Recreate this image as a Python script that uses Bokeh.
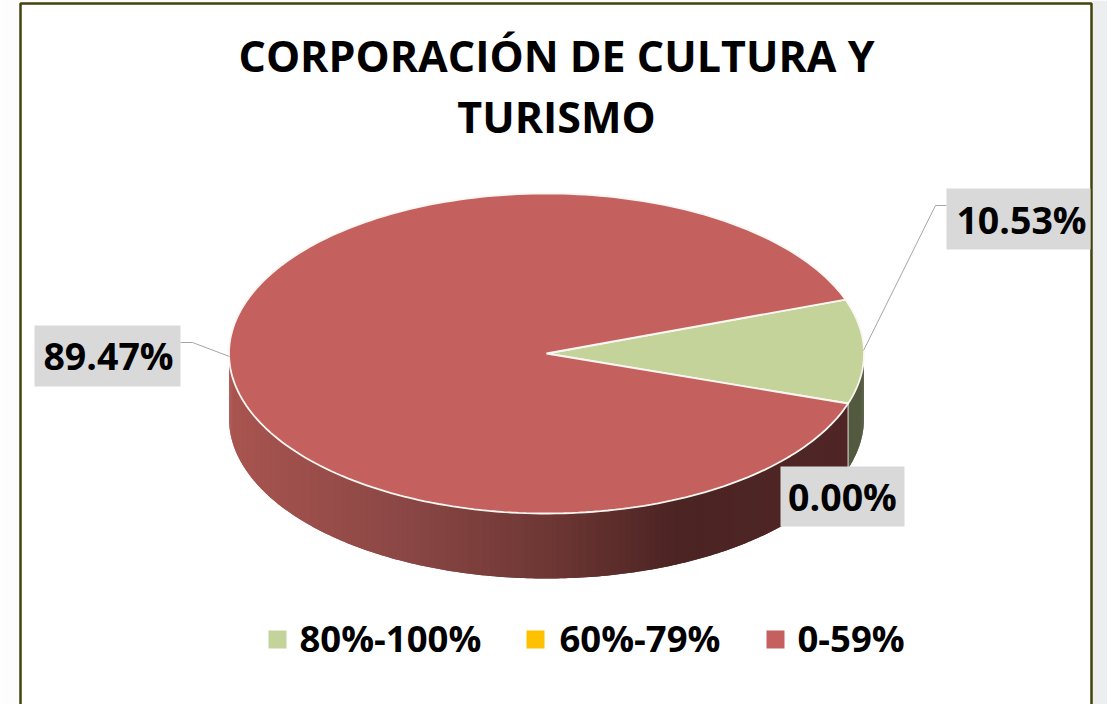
import numpy as np
from bokeh.plotting import figure
from bokeh.models import Range1d
from bokeh.core.properties import value
from bokeh.embed import file_html
from bokeh.resources import INLINE

# ---- data ----
categories = ["80%-100%", "60%-79%", "0-59%"]
shares = [10.53, 0.00, 89.47]
share_labels = ["10.53%", "0.00%", "89.47%"]
title_lines = ["CORPORACIÓN DE CULTURA Y", "TURISMO"]

# ---- style ----
top_colors = ["#c3d39a", "#ffc000", "#c4605d"]
FONT = value("Open Sans")
W, H = 1107, 704
CX, CY, RX, RY, DEPTH = 546, 353, 317.5, 160, 65
START = 19.7  # degrees, first slice starts here and runs clockwise


def pt(deg, dy=0):
    a = np.radians(deg)
    return CX + RX * np.cos(a), CY - RY * np.sin(a) + dy


p = figure(width=W, height=H, output_backend="svg", toolbar_location=None,
           x_range=Range1d(0, W), y_range=Range1d(H, 0),
           min_border=0, outline_line_color=None, background_fill_color="#fdfdfd")
p.axis.visible = False
p.grid.visible = False

# frame
p.quad(left=[1091], right=[W], top=[0], bottom=[H], fill_color="#eceef0", line_color=None)
p.quad(left=[20], right=[1091], top=[3], bottom=[H + 4], fill_color="#ffffff",
       line_color="#43430c", line_width=2.5)

# slice angle spans, from the values
total = sum(shares)
spans = []
a = START
for s in shares:
    b = a - s / total * 360
    spans.append((a, b))
    a = b


def side_color(x):
    stops_x = [229, 400, 546, 680, 850]
    r = np.interp(x, stops_x, [0xAA, 0x8C, 0x6F, 0x4C, 0x50])
    g = np.interp(x, stops_x, [0x55, 0x48, 0x38, 0x24, 0x27])
    bl = np.interp(x, stops_x, [0x50, 0x46, 0x35, 0x23, 0x26])
    return "#%02x%02x%02x" % (int(r), int(g), int(bl))


# side walls: only the front half of the rim shows
sx, sy, sc = [], [], []
for i, (a0, a1) in enumerate(spans):
    lo, hi = max(a1, -180), min(a0, 0)
    if hi <= lo:
        continue
    n = max(2, int((hi - lo) / 0.75))
    edges = np.linspace(hi, lo, n + 1)
    for k in range(n):
        # each strip reaches under the next one, so no seams show
        x0, y0 = pt(edges[k])
        x1, y1 = pt(edges[min(k + 2, n)])
        xm, ym = pt(edges[k + 1])
        sx.append([x0, xm, x1, x1, xm, x0])
        sy.append([y0, ym, y1, y1 + DEPTH, ym + DEPTH, y0 + DEPTH])
        sc.append("#535a3f" if i == 0 else side_color(xm))
p.patches(sx[::-1], sy[::-1], fill_color=sc[::-1], line_color=None)

# wall edge between the green and red sides
ex, ey = pt(spans[0][1])
p.segment(x0=[ex], y0=[ey], x1=[ex], y1=[ey + DEPTH], line_color="#c8c8c0", line_width=1.2)

# top faces
for (a0, a1), col in zip(spans, top_colors):
    if a0 == a1:
        continue
    ang = np.linspace(a0, a1, 240)
    xs, ys = pt(ang)
    p.patch(np.r_[CX, xs], np.r_[CY, ys], fill_color=col, line_color="#fbf6f2", line_width=1.8)

# leader lines
p.multi_line([[863, 935, 946], [229, 192, 180]], [[350, 205, 205], [356, 342, 342]],
             line_color="#a6a6a6", line_width=1)

# data labels
p.quad(left=[946, 780, 34], right=[1090, 904, 180], top=[188, 466, 325], bottom=[249, 526, 386],
       fill_color="#d9d9d9", line_color=None)
p.text(x=[1021, 842, 108], y=[219, 496, 355], text=share_labels, text_font=FONT,
       text_font_style="bold", text_font_size="37.5px", text_color="#000000",
       text_align="center", text_baseline="middle")

# title
p.text(x=[556, 556], y=[55, 116], text=title_lines, text_font=FONT, text_font_style="bold",
       text_font_size="43px", text_color="#000000", text_align="center", text_baseline="middle")

# legend
p.quad(left=[268, 526, 766], right=[286, 544, 784], top=[630] * 3, bottom=[648] * 3,
       fill_color=top_colors, line_color=None)
p.text(x=[299, 559, 797], y=[637] * 3, text=categories, text_font=FONT, text_font_style="bold",
       text_font_size="36.5px", text_color="#000000", text_align="left", text_baseline="middle")

open("out.html", "w").write(file_html(p, INLINE))
